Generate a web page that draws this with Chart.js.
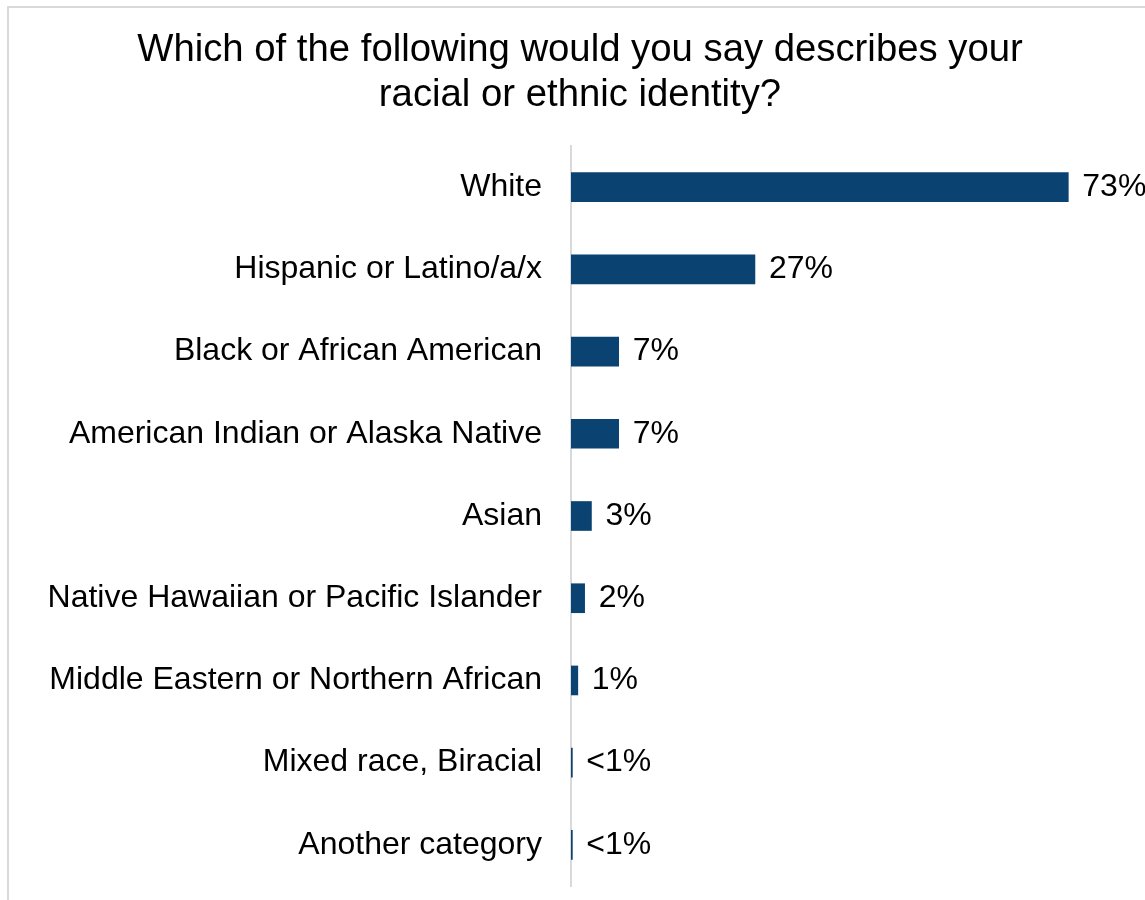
<!DOCTYPE html>
<html>
<head>
<meta charset="utf-8">
<title>Racial or ethnic identity</title>
<script src="https://cdn.jsdelivr.net/npm/chart.js@4/dist/chart.umd.min.js"></script>
<style>
  html, body { margin: 0; padding: 0; background: #fff; }
  #wrap { position: relative; width: 1145px; height: 900px; }
</style>
</head>
<body>
<div id="wrap"><canvas id="identityChart"></canvas></div>
<script>
// Survey answers, one bar per category
const categories = [
    'White',
    'Hispanic or Latino/a/x',
    'Black or African American',
    'American Indian or Alaska Native',
    'Asian',
    'Native Hawaiian or Pacific Islander',
    'Middle Eastern or Northern African',
    'Mixed race, Biracial',
    'Another category'
];
// Share of respondents, percent (the last two are under 1%)
const shares = [73, 27, 7, 7, 3, 2, 1, 0.2, 0.2];
const titleLines = [
    'Which of the following would you say describes your',
    'racial or ethnic identity?'
];

const FONT = '"Liberation Sans", Arial, Helvetica, sans-serif';
const BAR_COLOR = '#0A4272';
const FRAME_COLOR = '#d9d9d9';
const PAD_LEFT = 44;

function pctLabel(v) {
    return v < 1 ? '<1%' : Math.round(v) + '%';
}

// light frame along the top and left of the chart box
const framePlugin = {
    id: 'frame',
    beforeDraw(chart) {
        const ctx = chart.ctx;
        ctx.save();
        ctx.fillStyle = FRAME_COLOR;
        ctx.fillRect(7, 6, chart.width - 7, 2);
        ctx.fillRect(7, 6, 2, chart.height - 6);
        ctx.restore();
    }
};

// percent labels just past the end of each bar
const valueLabels = {
    id: 'valueLabels',
    afterDatasetsDraw(chart) {
        const ctx = chart.ctx;
        const meta = chart.getDatasetMeta(0);
        ctx.save();
        ctx.font = '32px ' + FONT;
        ctx.fillStyle = '#000';
        ctx.textAlign = 'left';
        ctx.textBaseline = 'middle';
        meta.data.forEach((bar, i) => {
            ctx.fillText(pctLabel(shares[i]), bar.x + 14, bar.y);
        });
        ctx.restore();
    }
};

const ctx = document.getElementById('identityChart');
const identityChart = new Chart(ctx, {
    type: 'bar',
    data: {
        labels: categories,
        datasets: [{
            data: shares,
            backgroundColor: BAR_COLOR,
            borderWidth: 0,
            barThickness: 29
        }]
    },
    options: {
        indexAxis: 'y',
        responsive: true,
        maintainAspectRatio: false,
        animation: false,
        layout: {
            padding: { top: 0, left: PAD_LEFT, right: 29, bottom: 14 }
        },
        plugins: {
            legend: { display: false },
            tooltip: { enabled: false },
            title: {
                display: true,
                text: titleLines,
                color: '#000',
                font: { family: FONT, size: 38.3, weight: 'normal', lineHeight: 1.175 },
                padding: { top: 28, bottom: 28 }
            }
        },
        scales: {
            x: {
                display: false,
                min: 0,
                max: 80
            },
            y: {
                grid: { display: false, drawTicks: false },
                border: { display: true, color: FRAME_COLOR, width: 2 },
                ticks: {
                    color: '#000',
                    padding: 29,
                    font: { family: FONT, size: 32 }
                },
                afterFit(scale) {
                    scale.width = 571 - PAD_LEFT;
                    scale.paddingTop = 0;
                    scale.paddingBottom = 0;
                }
            }
        }
    },
    plugins: [framePlugin, valueLabels]
});
</script>
</body>
</html>
